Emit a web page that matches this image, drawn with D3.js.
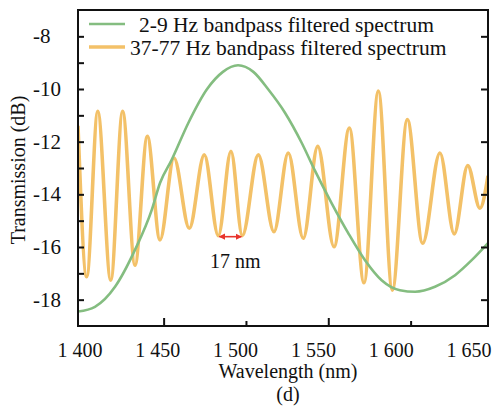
<!DOCTYPE html>
<html>
<head>
<meta charset="utf-8">
<script src="https://cdn.jsdelivr.net/npm/d3@7/dist/d3.min.js"></script>
<style>
  html, body { margin: 0; padding: 0; background: #fff; }
  svg { display: block; font-family: "Liberation Serif", "Times New Roman", serif; }
</style>
</head>
<body>
<svg id="chart" width="494" height="410"></svg>
<script>
// ---------- data ----------
const greenWavelength = [1398, 1408.3, 1420.5, 1432.6, 1442.8, 1447.8, 1454.9, 1465, 1476.2, 1486, 1495.2, 1504.5, 1513.6, 1523.7, 1533.9, 1541.9, 1552, 1562.2, 1572.3, 1582.4, 1593.5, 1602.7, 1614.8, 1627, 1637.1, 1647];
const greenValues     = [-18.45, -18.27, -17.51, -16.11, -14.59, -13.57, -12.69, -11.29, -10.02, -9.35, -9.1, -9.35, -10.02, -10.9, -12.05, -13.1, -14.33, -15.48, -16.5, -17.26, -17.64, -17.7, -17.51, -17.07, -16.5, -15.85];

const orangeWavelength = [1398, 1403.3, 1410, 1417.9, 1425.1, 1432.6, 1440.1, 1447.8, 1456.3, 1465.6, 1474.7, 1483.2, 1490.9, 1497.8, 1507.5, 1517, 1525.7, 1534.8, 1543.6, 1553.5, 1562.8, 1571.7, 1580.4, 1588.9, 1598, 1607.3, 1617.8, 1626.5, 1634.7, 1642.1, 1647];
const orangeValues     = [-11.4, -17.13, -10.85, -17.26, -10.85, -16.69, -11.8, -15.73, -12.62, -15.29, -12.5, -15.57, -12.37, -15.57, -12.5, -15.42, -12.43, -15.67, -12.18, -15.99, -11.48, -17.36, -10.08, -17.64, -11.16, -15.86, -12.43, -15.5, -12.91, -14.53, -13.3];

const seriesNames = ["2-9 Hz bandpass filtered spectrum", "37-77 Hz bandpass filtered spectrum"];
const xTickValues = [1400, 1450, 1500, 1550, 1600, 1650];
const xTickLabels = ["1 400", "1 450", "1 500", "1 550", "1 600", "1 650"];
const yMajorTicks = [-8, -10, -12, -14, -16, -18];
const yMinorTicks = [-8, -9, -10, -11, -12, -13, -14, -15, -16, -17, -18];
const arrowSpan = [1483.2, 1497.8];
const arrowLevel = -15.57;
const arrowLabel = "17 nm";
const xTitle = "Wavelength (nm)";
const yTitle = "Transmission (dB)";
const panelLabel = "(d)";

// ---------- layout ----------
const svg = d3.select("#chart");
const mLeft = 78, mRight = 488, mTop = 10, mBottom = 326;
const x = d3.scaleLinear().domain([1398, 1647]).range([mLeft, mRight]);
const y = d3.scaleLinear().domain([-19, -7]).range([mBottom, mTop]);
// tick labels in the original are set on their own, evenly spread row
const xLabelPos = d3.scaleLinear().domain([1400, 1650]).range([80, 469]);

const green = "#84bd80", orange = "#f3c168", red = "#e8342c";

svg.append("clipPath").attr("id", "clip")
  .append("rect").attr("x", mLeft).attr("y", mTop).attr("width", mRight - mLeft).attr("height", mBottom - mTop);

const line = d3.line().x(d => x(d[0])).y(d => y(d[1])).curve(d3.curveMonotoneX);
const orangeData = orangeWavelength.map((w, i) => [w, orangeValues[i]]);
const greenData = greenWavelength.map((w, i) => [w, greenValues[i]]);

const plot = svg.append("g").attr("clip-path", "url(#clip)");
plot.append("path").datum(orangeData).attr("d", line)
  .attr("fill", "none").attr("stroke", orange).attr("stroke-width", 3.6).attr("stroke-linejoin", "round");
plot.append("path").datum(greenData).attr("d", line)
  .attr("fill", "none").attr("stroke", green).attr("stroke-width", 2.6);

// ---------- axes ----------
const leftAxis = d3.axisLeft(y).tickValues(yMinorTicks).tickSizeInner(-6).tickSizeOuter(0).tickFormat("");
const gl = svg.append("g").attr("transform", `translate(${mLeft},0)`).call(leftAxis);
gl.select(".domain").remove();
gl.selectAll(".tick line").attr("stroke", "#111").attr("stroke-width", 2);

svg.append("g").selectAll("text").data(yMajorTicks).join("text")
  .attr("x", 33).attr("y", d => y(d) + 7)
  .attr("font-size", 21).attr("fill", "#111").text(d => d);

const rightAxis = d3.axisRight(y).tickValues(yMajorTicks).tickSizeInner(-7).tickSizeOuter(0).tickFormat("");
const gr = svg.append("g").attr("transform", `translate(${mRight},0)`).call(rightAxis);
gr.select(".domain").remove();
gr.selectAll(".tick line").attr("stroke", "#111").attr("stroke-width", 2);

const bottomAxis = d3.axisBottom(x).tickValues(xTickValues.slice(1, 5)).tickSizeOuter(0).tickFormat("");
const gb = svg.append("g").attr("transform", `translate(0,${mBottom})`).call(bottomAxis);
gb.select(".domain").remove();
gb.selectAll(".tick line")
  .attr("y2", (d, i) => i % 2 === 0 ? -8 : -5)
  .attr("stroke", "#111").attr("stroke-width", 2);

svg.append("g").selectAll("text").data(xTickValues).join("text")
  .attr("x", d => xLabelPos(d)).attr("y", 357)
  .attr("text-anchor", "middle").attr("font-size", 20).attr("fill", "#111")
  .text((d, i) => xTickLabels[i]);

svg.append("rect").attr("x", mLeft).attr("y", mTop).attr("width", mRight - mLeft).attr("height", mBottom - mTop)
  .attr("fill", "none").attr("stroke", "#111").attr("stroke-width", 2);

svg.append("text").attr("x", 288).attr("y", 378).attr("text-anchor", "middle")
  .attr("font-size", 20).attr("fill", "#111").text(xTitle);
svg.append("text").attr("x", 288).attr("y", 401).attr("text-anchor", "middle")
  .attr("font-size", 20).attr("fill", "#111").text(panelLabel);
svg.append("text").attr("transform", "translate(25,170) rotate(-90)").attr("text-anchor", "middle")
  .attr("font-size", 20).attr("fill", "#111").text(yTitle);

// ---------- annotation ----------
const defs = svg.append("defs");
defs.append("marker").attr("id", "arr")
  .attr("viewBox", "0 0 10 10").attr("refX", 9).attr("refY", 5)
  .attr("markerWidth", 4).attr("markerHeight", 4).attr("orient", "auto-start-reverse")
  .append("path").attr("d", "M0,0 L10,5 L0,10 z").attr("fill", red);
svg.append("line")
  .attr("x1", x(arrowSpan[0]) + 1).attr("x2", x(arrowSpan[1]) - 1)
  .attr("y1", y(arrowLevel) + 1).attr("y2", y(arrowLevel) + 1)
  .attr("stroke", red).attr("stroke-width", 1.6)
  .attr("marker-start", "url(#arr)").attr("marker-end", "url(#arr)");
svg.append("text").attr("x", (x(arrowSpan[0]) + x(arrowSpan[1])) / 2 + 5).attr("y", 268)
  .attr("text-anchor", "middle").attr("font-size", 20).attr("fill", "#111").text(arrowLabel);

// ---------- legend ----------
const legendColors = [green, orange];
const legendWidths = [2.6, 3.6];
const legendTextX = [139, 130];
const lg = svg.append("g");
seriesNames.forEach((name, i) => {
  const ly = 24 + i * 23;
  lg.append("line").attr("x1", 89).attr("x2", 125).attr("y1", ly).attr("y2", ly)
    .attr("stroke", legendColors[i]).attr("stroke-width", legendWidths[i]);
  lg.append("text").attr("x", legendTextX[i]).attr("y", ly + 8)
    .attr("font-size", 21.5).attr("fill", "#111").text(name);
});
</script>
</body>
</html>
